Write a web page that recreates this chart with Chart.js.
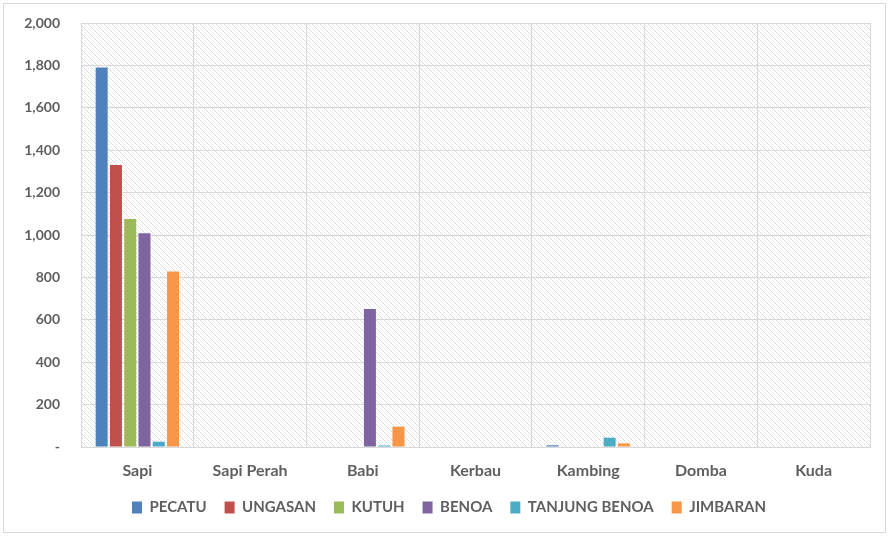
<!DOCTYPE html>
<html>
<head>
<meta charset="utf-8">
<script src="https://cdn.jsdelivr.net/npm/chart.js@4.4.1/dist/chart.umd.min.js"></script>
<style>
    html, body { margin: 0; padding: 0; background: #fff; }
    #wrap { width: 889px; height: 536px; position: relative; }
</style>
</head>
<body>
<div id="wrap"><canvas id="chart"></canvas></div>
<script>
// categories and series
const categories = ['Sapi', 'Sapi Perah', 'Babi', 'Kerbau', 'Kambing', 'Domba', 'Kuda'];
const pecatu        = [1790, 0, 0,   0, 8,  0, 0];
const ungasan       = [1330, 0, 0,   0, 0,  0, 0];
const kutuh         = [1076, 0, 0,   0, 0,  0, 0];
const benoa         = [1008, 0, 651, 0, 0,  0, 0];
const tanjungBenoa  = [25,   0, 7,   0, 44, 0, 0];
const jimbaran      = [828,  0, 96,  0, 17, 0, 0];
const seriesNames   = ['PECATU', 'UNGASAN', 'KUTUH', 'BENOA', 'TANJUNG BENOA', 'JIMBARAN'];
const seriesColors  = ['#4f81bd', '#c0504d', '#9bbb59', '#8064a2', '#4bacc6', '#f79646'];
const yTicks        = [0, 200, 400, 600, 800, 1000, 1200, 1400, 1600, 1800, 2000];

const FONT = "Lato, 'Open Sans', 'DejaVu Sans', sans-serif";
const TEXT = '#5f5f5f';
const GRID = '#d9d9d9';

// light diagonal hatch like the Office pattern fill
function makeHatch() {
    const c = document.createElement('canvas');
    c.width = 8; c.height = 8;
    const g = c.getContext('2d');
    g.fillStyle = '#ffffff';
    g.fillRect(0, 0, 8, 8);
    g.fillStyle = '#dedede';
    for (let i = 0; i < 8; i++) {
        g.fillRect(i, i, 1, 1);
        if (i % 2 === 0) g.fillRect((i + 4) % 8, i, 1, 1);
    }
    return g.createPattern(c, 'repeat');
}

const backdrop = {
    id: 'backdrop',
    afterUpdate(chart) {
        // legend sits centred on the whole picture, not just the padded box
        const lg = chart.legend;
        if (lg) {
            lg.left += 14;
            lg.right += 14;
            lg.adjustHitBoxes();
        }
    },
    beforeDraw(chart) {
        const { ctx, chartArea: a } = chart;
        ctx.save();
        ctx.fillStyle = makeHatch();
        ctx.fillRect(a.left, a.top, a.right - a.left, a.bottom - a.top);
        ctx.restore();
    },
    afterDraw(chart) {
        const ctx = chart.ctx;
        ctx.save();
        ctx.strokeStyle = GRID;
        ctx.lineWidth = 1;
        ctx.strokeRect(3.5, 3.5, chart.width - 7, chart.height - 7);
        ctx.restore();
    }
};

const seriesData = [pecatu, ungasan, kutuh, benoa, tanjungBenoa, jimbaran];

new Chart(document.getElementById('chart'), {
    type: 'bar',
    data: {
        labels: categories,
        datasets: seriesNames.map((name, i) => ({
            label: name,
            data: seriesData[i],
            backgroundColor: seriesColors[i],
            borderWidth: 0,
            barPercentage: 0.84,
            categoryPercentage: 0.76
        }))
    },
    options: {
        responsive: true,
        maintainAspectRatio: false,
        animation: false,
        layout: { padding: { top: 23, right: 19, bottom: 11, left: 0 } },
        plugins: {
            tooltip: { enabled: false },
            legend: {
                position: 'bottom',
                labels: {
                    boxWidth: 10,
                    boxHeight: 12,
                    padding: 18,
                    color: TEXT,
                    font: { family: FONT, size: 15, weight: 'bold' }
                }
            }
        },
        scales: {
            x: {
                grid: { color: GRID, offset: true, drawTicks: false },
                border: { color: GRID },
                ticks: { color: TEXT, font: { family: FONT, size: 16, weight: 'bold' }, padding: 14 },
                afterFit(scale) { scale.height = 35; }
            },
            y: {
                min: 0,
                max: 2000,
                afterBuildTicks(scale) { scale.ticks = yTicks.map(v => ({ value: v })); },
                grid: { color: GRID, drawTicks: false },
                border: { color: GRID },
                ticks: {
                    color: TEXT,
                    font: { family: FONT, size: 14, weight: 'bold' },
                    padding: 21,
                    callback: v => v === 0 ? '-' : v.toLocaleString('en-US')
                },
                afterFit(scale) {
                    scale.width = 81;
                    // tick padding would otherwise push the plot top down
                    scale.paddingTop = 0;
                    scale.paddingBottom = 0;
                }
            }
        }
    },
    plugins: [backdrop]
});
</script>
</body>
</html>
